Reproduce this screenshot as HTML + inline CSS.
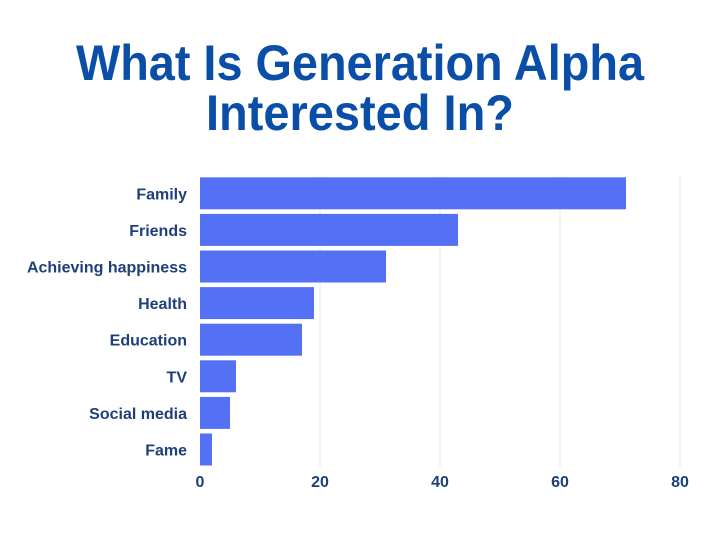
<!DOCTYPE html>
<html><head><meta charset="utf-8"><style>
body{margin:0;background:#fff;}
svg{display:block;font-family:"Liberation Sans",sans-serif;}
</style></head><body>
<svg id="c" width="720" height="540">
<text x="360" y="80" text-anchor="middle" font-size="50" font-weight="bold" fill="#0a4ea8" textLength="568" lengthAdjust="spacingAndGlyphs">What Is Generation Alpha</text>
<text x="360" y="130" text-anchor="middle" font-size="50" font-weight="bold" fill="#0a4ea8" textLength="308" lengthAdjust="spacingAndGlyphs">Interested In?</text>
<g id="grid"></g><g id="bars"></g><g id="labels"></g><g id="ticks"></g>
</svg>
<script>
const categories=["Family","Friends","Achieving happiness","Health","Education","TV","Social media","Fame"];
const values=[71,43,31,19,17,6,5,2];
const tickValues=[0,20,40,60,80];
const NS="http://www.w3.org/2000/svg";
const x0=200,x1=680,xMax=80,yTop=175,band=36.6,barH=32;
const xs=v=>x0+v/xMax*(x1-x0);
const ys=i=>yTop+i*band+(band-barH)/2;
function mk(t,a,p){const e=document.createElementNS(NS,t);for(const k in a)e.setAttribute(k,a[k]);document.getElementById(p).appendChild(e);return e;}
tickValues.forEach(t=>{
 if(t>0){const g=mk('line',{x1:xs(t),x2:xs(t),y1:yTop,y2:yTop+8*band,stroke:'#e3e8f0','stroke-width':1},'grid');
 
 }
 const l=mk('text',{x:xs(t),y:487,'text-anchor':'middle','font-size':16,'font-weight':'bold',fill:'#1f3f7a'},'ticks');
 l.textContent=t;
 
 
});
categories.forEach((c,i)=>{
 const r=mk('rect',{x:x0,y:ys(i),width:xs(values[i])-x0,height:barH,fill:'#5470f5'},'bars');
 
 
 const t=mk('text',{x:187,y:ys(i)+barH/2+6,'text-anchor':'end','font-size':16,'font-weight':'bold',fill:'#1f3f7a'},'labels');
 t.textContent=c;
 
 
});
</script>
</body></html>
